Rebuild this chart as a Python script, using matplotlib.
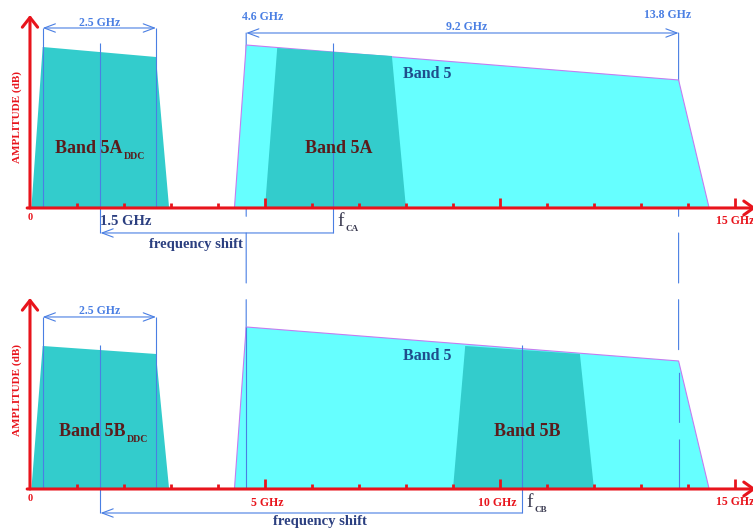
import matplotlib.pyplot as plt
from matplotlib.patches import ConnectionPatch

plt.rcParams['font.family'] = ['Liberation Serif', 'DejaVu Serif']
plt.rcParams['font.weight'] = 'bold'
plt.rcParams['lines.scale_dashes'] = False

# frequency in GHz, amplitude in arbitrary units (the dB axis has no scale)
minor_ticks = [1, 2, 3, 4, 6, 7, 8, 9, 11, 12, 13, 14]
major_ticks = [5, 10, 15]

ddc_freq = [0.03, 0.27, 2.68, 2.96]
ddc_amp_a = [0, 16.1, 15.1, 0]
ddc_amp_b = [0, 14.3, 13.5, 0]

band5_freq = [4.35, 4.6, 13.8, 14.45]
band5_amp_a = [0, 16.3, 12.8, 0]
band5_amp_b = [0, 16.2, 12.8, 0]

band5a_freq = [5.0, 5.26, 7.7, 8.0]
band5a_amp = [0, 16.0, 15.2, 0]
band5b_freq = [9.0, 9.26, 11.7, 12.0]
band5b_amp = [0, 14.3, 13.5, 0]

f_if = 1.5
f_ca = 6.45
f_cb = 10.47
band5_edges = [4.6, 13.8]

RED = '#e8141c'
CYAN = '#66ffff'
TEAL = '#33cccc'
DIM = '#4a7fe3'
NAVY = '#2b3f80'
MAROON = '#5a1c1c'

fig = plt.figure(figsize=(7.53, 5.31), dpi=100)
ax1 = fig.add_axes([0, 0.501, 1, 0.499])
ax2 = fig.add_axes([0, 0, 1, 0.501])
ax1.set_xlim(-0.638, 15.383)
ax2.set_xlim(-0.638, 15.383)
ax1.set_ylim(-5.7, 20.8)
ax2.set_ylim(-4.2, 22.4)
for ax in (ax1, ax2):
    ax.axis('off')


def draw_axis(ax, ytop, label_y):
    ax.annotate('', xy=(15.45, 0), xytext=(-0.06, 0), annotation_clip=False,
                arrowprops=dict(arrowstyle='->,head_length=0.7,head_width=0.5',
                                color=RED, lw=2.2, shrinkA=0, shrinkB=0), zorder=5)
    ax.annotate('', xy=(0, ytop), xytext=(0, 0),
                arrowprops=dict(arrowstyle='->,head_length=0.7,head_width=0.55',
                                color=RED, lw=2.2, shrinkA=0, shrinkB=0), zorder=5)
    ax.vlines(minor_ticks, 0, 0.5, color=RED, lw=2, zorder=5)
    ax.vlines(major_ticks, 0, 1.0, color=RED, lw=2, zorder=5)
    ax.text(0, -1.0, '0', color=RED, fontsize=7.5, ha='center', va='center')
    ax.text(15, -1.3, '15 GHz', color=RED, fontsize=8.5, ha='center', va='center')
    ax.text(-0.28, label_y, 'AMPLITUDE (dB)', color=RED, fontsize=8, rotation=90,
            ha='center', va='center')


def dim_arrow(ax, x0, x1, y, style='<->'):
    ax.annotate('', xy=(x1, y), xytext=(x0, y),
                arrowprops=dict(arrowstyle=style + ',head_length=0.8,head_width=0.3',
                                color=DIM, lw=0.8, shrinkA=0, shrinkB=0), zorder=4)


def sub_label(ax, x, y, main, sub, color, size, subsize, weight='bold'):
    t = ax.text(x, y, main, color=color, fontsize=size, fontweight=weight,
                ha='left', va='center', zorder=6)
    ax.annotate(sub, xy=(1, 0), xycoords=t, xytext=(1, 1), textcoords='offset points',
                color=color, fontsize=subsize, fontweight='bold', ha='left', va='center',
                zorder=6)


# ---- top panel: band 5A
draw_axis(ax1, 19.3, 9.1)
ax1.fill(band5_freq, band5_amp_a, facecolor=CYAN, edgecolor='#c47cf0', lw=0.8, zorder=2)
ax1.fill(band5a_freq, band5a_amp, facecolor=TEAL, edgecolor='none', zorder=2.5)
ax1.fill(ddc_freq, ddc_amp_a, facecolor=TEAL, edgecolor='none', zorder=2)

ax1.vlines(ddc_freq[1:3], 0, 18.0, color=DIM, lw=0.8, zorder=3)
ax1.vlines([f_if, f_ca], -2.5, 16.5, color=DIM, lw=0.8, zorder=3)
dim_arrow(ax1, ddc_freq[1], ddc_freq[2], 18.0)
dim_arrow(ax1, band5_edges[0], band5_edges[1], 17.5)
dim_arrow(ax1, f_ca, f_if, -2.5, style='->')

ax1.text(1.49, 18.5, '2.5 GHz', color=DIM, fontsize=8.5, ha='center', va='center')
ax1.text(4.95, 19.1, '4.6 GHz', color=DIM, fontsize=8.5, ha='center', va='center')
ax1.text(9.3, 18.1, '9.2 GHz', color=DIM, fontsize=8.5, ha='center', va='center')
ax1.text(13.57, 19.3, '13.8 GHz', color=DIM, fontsize=8.5, ha='center', va='center')
ax1.text(8.45, 13.4, 'Band 5', color='#1f4e8c', fontsize=11.5, ha='center', va='center', zorder=6)
ax1.text(6.57, 5.9, 'Band 5A', color=MAROON, fontsize=13, ha='center', va='center', zorder=6)
sub_label(ax1, 0.53, 5.9, 'Band 5A', 'DDC', MAROON, 13, 7)
ax1.text(f_if, -1.4, '1.5 GHz', color=NAVY, fontsize=10.5, ha='left', va='center')
sub_label(ax1, f_ca + 0.1, -1.4, 'f', 'CA', '#3a3a50', 14, 6.5, weight='normal')
ax1.text(3.53, -3.7, 'frequency shift', color=NAVY, fontsize=10.5, ha='center', va='center')

# band 5 edge markers running down into the lower panel
for f in band5_edges:
    con = ConnectionPatch(xyA=(f, 17.5), coordsA=ax1.transData, xyB=(f, 0),
                          coordsB=ax2.transData, color=DIM, lw=0.8,
                          linestyle=(0, (36, 12)), zorder=1)
    ax1.add_artist(con)

# ---- bottom panel: band 5B
draw_axis(ax2, 19.1, 9.9)
ax2.fill(band5_freq, band5_amp_b, facecolor=CYAN, edgecolor='#c47cf0', lw=0.8, zorder=2)
ax2.fill(band5b_freq, band5b_amp, facecolor=TEAL, edgecolor='none', zorder=2.5)
ax2.fill(ddc_freq, ddc_amp_b, facecolor=TEAL, edgecolor='none', zorder=2)

ax2.vlines(ddc_freq[1:3], 0, 17.2, color=DIM, lw=0.8, zorder=3)
ax2.vlines([f_if, f_cb], -2.4, 14.4, color=DIM, lw=0.8, zorder=3)
ax2.vlines(band5_edges[0], 0, band5_amp_b[1], color=DIM, lw=0.8, zorder=3)
ax2.plot([band5_edges[1]] * 2, [0, band5_amp_b[2]], color=DIM, lw=0.8,
         dashes=(36, 12), zorder=3)
dim_arrow(ax2, ddc_freq[1], ddc_freq[2], 17.2)
dim_arrow(ax2, f_cb, f_if, -2.4, style='->')

ax2.text(1.49, 17.8, '2.5 GHz', color=DIM, fontsize=8.5, ha='center', va='center')
ax2.text(8.45, 13.3, 'Band 5', color='#1f4e8c', fontsize=11.5, ha='center', va='center', zorder=6)
ax2.text(10.57, 5.7, 'Band 5B', color=MAROON, fontsize=13, ha='center', va='center', zorder=6)
sub_label(ax2, 0.62, 5.7, 'Band 5B', 'DDC', MAROON, 13, 7)
ax2.text(5.05, -1.4, '5 GHz', color=RED, fontsize=8.5, ha='center', va='center')
ax2.text(9.95, -1.4, '10 GHz', color=RED, fontsize=8.5, ha='center', va='center')
sub_label(ax2, f_cb + 0.1, -1.4, 'f', 'CB', '#3a3a50', 14, 6.5, weight='normal')
ax2.text(6.17, -3.3, 'frequency shift', color=NAVY, fontsize=10.5, ha='center', va='center')

fig.savefig('out.png', dpi=100)
